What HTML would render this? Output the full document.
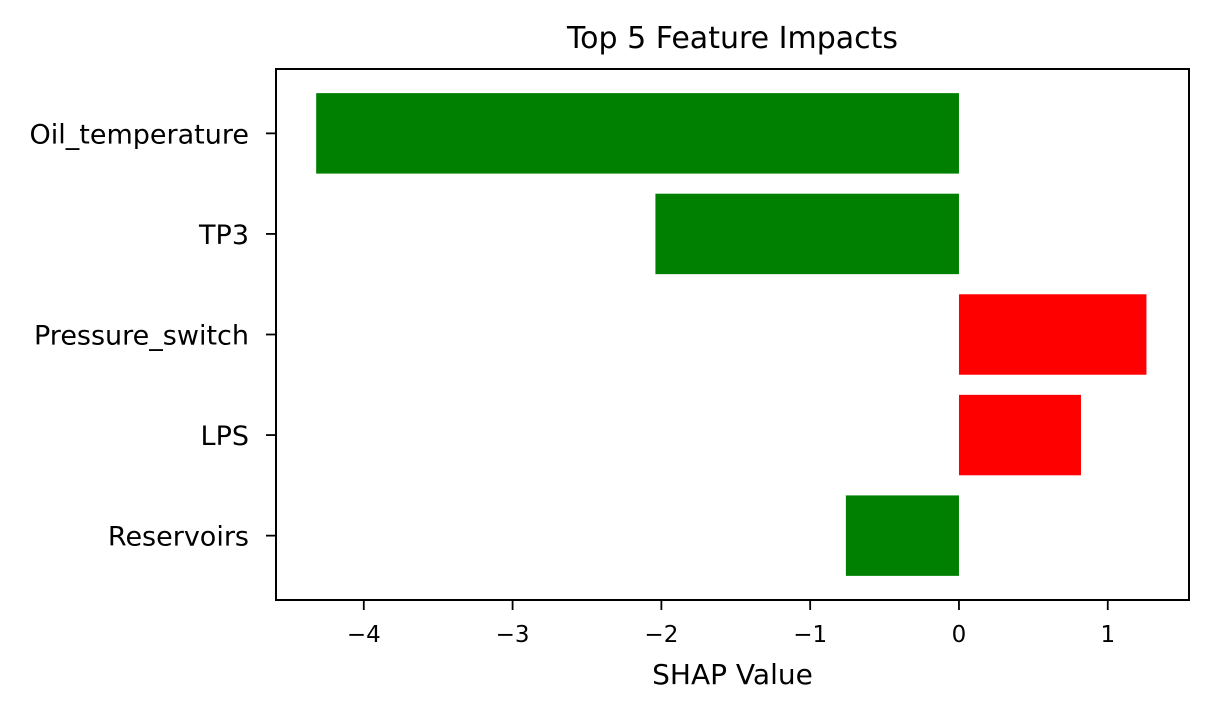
<!DOCTYPE html>
<html><head><meta charset="utf-8"><style>
body{margin:0;background:#fff;}
svg text{font-family:"DejaVu Sans","Liberation Sans",sans-serif;fill:#000;}
</style></head><body>
<svg width="1213" height="715" xmlns="http://www.w3.org/2000/svg">
<g id="plot"></g>
</svg>
<script>
const categories=["Oil_temperature","TP3","Pressure_switch","LPS","Reservoirs"];
const values=[-4.32,-2.04,1.26,0.82,-0.76];
const xTicks=[-4,-3,-2,-1,0,1];
const xTickLabels=["\u22124","\u22123","\u22122","\u22121","0","1"];
const L=276,R=1189,T=69,B=600;
const xMin=-4.59,xMax=1.546;
const yMin=-0.64,yMax=4.64;
const xs=v=>L+(v-xMin)/(xMax-xMin)*(R-L);
const ys=i=>T+(i-yMin)/(yMax-yMin)*(B-T);
const NS="http://www.w3.org/2000/svg";
const g=document.getElementById('plot');
function mk(tag,attrs){const e=document.createElementNS(NS,tag);for(const k in attrs)e.setAttribute(k,attrs[k]);g.appendChild(e);return e;}
values.forEach((v,i)=>{
  const x0=xs(Math.min(0,v)),x1=xs(Math.max(0,v));
  const r=mk('rect',{x:x0,y:ys(i-0.4),width:x1-x0,height:ys(i+0.4)-ys(i-0.4),fill:v<0?'#008000':'#ff0000'});
  
  
  const t=mk('line',{x1:L,x2:L-10,y1:ys(i),y2:ys(i),stroke:'#000','stroke-width':1.8});
  
  
  const lb=mk('text',{x:L-27,y:ys(i)+10,'text-anchor':'end','font-size':27});
  lb.textContent=categories[i];
  
  
});
xTicks.forEach((v,i)=>{
  const t=mk('line',{x1:xs(v),x2:xs(v),y1:B,y2:B+10,stroke:'#000','stroke-width':1.8});
  
  
  const lb=mk('text',{x:xs(v),y:B+42,'text-anchor':'middle','font-size':23});
  lb.textContent=xTickLabels[i];
  
  
});
const f=mk('rect',{x:L,y:T,width:R-L,height:B-T,fill:'none',stroke:'#000','stroke-width':2});


const xt=mk('text',{x:(L+R)/2,y:684,'text-anchor':'middle','font-size':28});
xt.textContent='SHAP Value';


const tt=mk('text',{x:(L+R)/2,y:48,'text-anchor':'middle','font-size':30});
tt.textContent='Top 5 Feature Impacts';


</script>
</body></html>
